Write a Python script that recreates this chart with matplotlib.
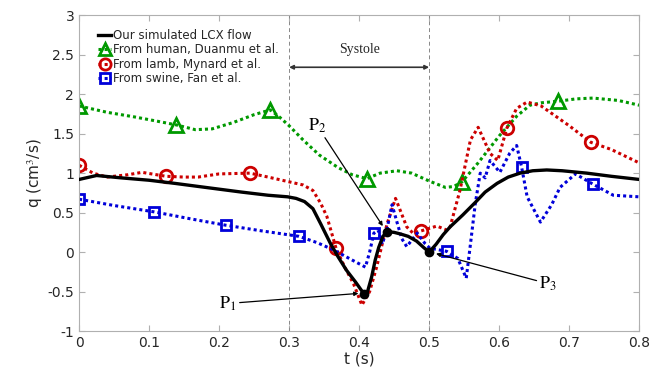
import matplotlib
matplotlib.use('Agg')
import matplotlib.pyplot as plt
import numpy as np

plt.rcParams['mathtext.fontset'] = 'stix'

# our simulated LCX flow
t_lcx = [0, 0.025, 0.06, 0.1, 0.137, 0.18, 0.232, 0.27, 0.298, 0.31, 0.322, 0.334,
         0.345, 0.359, 0.37, 0.382, 0.395, 0.407, 0.412, 0.418, 0.423, 0.428, 0.434,
         0.44, 0.45, 0.459, 0.47, 0.482, 0.492, 0.5, 0.51, 0.52, 0.53, 0.548, 0.566,
         0.58, 0.597, 0.613, 0.63, 0.648, 0.668, 0.69, 0.725, 0.76, 0.8]
q_lcx = [0.92, 0.97, 0.94, 0.91, 0.87, 0.82, 0.76, 0.72, 0.70, 0.68, 0.64, 0.55,
         0.36, 0.11, -0.06, -0.23, -0.38, -0.53, -0.50, -0.31, -0.10, 0.06, 0.20,
         0.26, 0.25, 0.23, 0.20, 0.14, 0.06, 0.0, 0.10, 0.22, 0.32, 0.47, 0.63,
         0.76, 0.87, 0.95, 1.0, 1.03, 1.04, 1.03, 1.0, 0.96, 0.92]

# human, Duanmu et al.
t_hum = [0, 0.04, 0.08, 0.11, 0.139, 0.166, 0.19, 0.22, 0.25, 0.273, 0.285, 0.3,
         0.32, 0.343, 0.37, 0.39, 0.411, 0.43, 0.454, 0.475, 0.5, 0.523, 0.535,
         0.547, 0.57, 0.6, 0.625, 0.644, 0.66, 0.684, 0.71, 0.734, 0.77, 0.8]
q_hum = [1.85, 1.77, 1.71, 1.66, 1.61, 1.55, 1.56, 1.64, 1.74, 1.80, 1.72, 1.60,
         1.42, 1.23, 1.07, 0.98, 0.93, 1.0, 1.03, 1.0, 0.90, 0.82, 0.83,
         0.89, 1.13, 1.47, 1.72, 1.86, 1.89, 1.91, 1.94, 1.95, 1.92, 1.86]
mk_hum = [0, 0.139, 0.273, 0.411, 0.547, 0.684]

# lamb, Mynard et al.
t_lamb = [0, 0.02, 0.04, 0.07, 0.09, 0.124, 0.15, 0.17, 0.2, 0.244, 0.27, 0.3,
          0.32, 0.334, 0.345, 0.354, 0.367, 0.38, 0.392, 0.404, 0.415, 0.425,
          0.44, 0.452, 0.468, 0.477, 0.489, 0.511, 0.525, 0.53, 0.544, 0.559,
          0.57, 0.587, 0.598, 0.611, 0.625, 0.64, 0.66, 0.7, 0.731, 0.76, 0.8]
q_lamb = [1.10, 1.0, 0.95, 0.98, 1.01, 0.96, 0.95, 0.95, 0.99, 1.0, 0.95, 0.89,
          0.85, 0.78, 0.62, 0.45, 0.05, -0.20, -0.40, -0.67, -0.50, -0.19,
          0.36, 0.68, 0.32, 0.24, 0.27, 0.33, 0.28, 0.32, 0.78, 1.42,
          1.58, 1.25, 1.16, 1.57, 1.82, 1.90, 1.85, 1.60, 1.39, 1.30, 1.13]
mk_lamb = [0, 0.124, 0.244, 0.367, 0.489, 0.611, 0.731]

# swine, Fan et al.
t_sw = [0, 0.05, 0.107, 0.16, 0.21, 0.26, 0.314, 0.34, 0.363, 0.39, 0.409, 0.415,
        0.421, 0.427, 0.433, 0.44, 0.447, 0.455, 0.461, 0.468, 0.483, 0.494, 0.501,
        0.525, 0.541, 0.553, 0.559, 0.566, 0.573, 0.58, 0.587, 0.601, 0.615, 0.625,
        0.632, 0.64, 0.659, 0.675, 0.687, 0.709, 0.734, 0.763, 0.8]
q_sw = [0.67, 0.59, 0.51, 0.42, 0.34, 0.27, 0.20, 0.12, 0.03, -0.10, -0.19, 0.0,
        0.24, 0.28, 0.10, 0.30, 0.60, 0.35, 0.17, 0.07, 0.24, 0.11, 0.05,
        0.01, -0.08, -0.33, 0.10, 0.62, 1.0, 0.94, 1.16, 1.01, 1.25, 1.35,
        1.08, 0.70, 0.38, 0.60, 0.82, 0.99, 0.86, 0.72, 0.70]
mk_sw = [0, 0.107, 0.21, 0.314, 0.421, 0.525, 0.632, 0.734]

# P1, P2, P3
t_p = [0.407, 0.44, 0.5]
q_p = [-0.53, 0.26, 0.0]

green = (0, 0.6, 0)
red = (0.8, 0, 0)
blue = (0, 0, 0.85)
txt = '#262626'

fig = plt.figure(figsize=(6.7, 3.78), dpi=100)
ax = fig.add_axes([0.118, 0.124, 0.836, 0.836])

ax.axvline(0.3, color='#888888', ls=(0, (4, 3)), lw=0.7)
ax.axvline(0.5, color='#888888', ls=(0, (4, 3)), lw=0.7)

dot = (0, (1, 1))
ax.plot(t_lcx, q_lcx, color='k', lw=2.4, label='Our simulated LCX flow', zorder=5)
ax.plot(t_hum, q_hum, color=green, lw=2.2, ls=dot, marker='^', ms=10, mfc='none',
        mew=2, markevery=list(np.where(np.isin(t_hum, mk_hum))[0]),
        label='From human, Duanmu et al.')
ax.plot(t_lamb, q_lamb, color=red, lw=2.2, ls=dot, marker='o', ms=9, mfc='none',
        mew=2, markevery=list(np.where(np.isin(t_lamb, mk_lamb))[0]),
        label='From lamb, Mynard et al.')
ax.plot(t_sw, q_sw, color=blue, lw=2.2, ls=dot, marker='s', ms=7.5, mfc='none',
        mew=2, markevery=list(np.where(np.isin(t_sw, mk_sw))[0]),
        label='From swine, Fan et al.')
ax.plot(t_p, q_p, 'o', color='k', ms=6, zorder=6)

# Systole arrow
ax.annotate('', xy=(0.3, 2.34), xytext=(0.5, 2.34),
            arrowprops=dict(arrowstyle='<|-|>', color='#333333', lw=1.2,
                            mutation_scale=6, shrinkA=0, shrinkB=0))
ax.text(0.4, 2.56, 'Systole', ha='center', va='center', fontsize=10,
        family='Liberation Serif', color=txt)

arr = dict(arrowstyle='-|>', color='k', lw=0.9, mutation_scale=6, shrinkA=0, shrinkB=2)
ax.annotate(r'$\mathrm{P}_1$', xy=(0.403, -0.52), xytext=(0.213, -0.65),
            fontsize=13, ha='center', va='center', arrowprops=arr)
ax.annotate(r'$\mathrm{P}_2$', xy=(0.436, 0.3), xytext=(0.34, 1.6),
            fontsize=13, ha='center', va='center', arrowprops=arr)
ax.annotate(r'$\mathrm{P}_3$', xy=(0.506, -0.01), xytext=(0.67, -0.4),
            fontsize=13, ha='center', va='center', arrowprops=arr)

ax.set_xlim(0, 0.8)
ax.set_ylim(-1, 3)
ax.set_xticks(np.arange(0, 0.81, 0.1))
ax.set_xticklabels(['0', '0.1', '0.2', '0.3', '0.4', '0.5', '0.6', '0.7', '0.8'])
ax.set_yticks(np.arange(-1, 3.01, 0.5))
ax.set_yticklabels(['-1', '-0.5', '0', '0.5', '1', '1.5', '2', '2.5', '3'])
ax.tick_params(direction='in', top=True, right=True, labelsize=10, colors='#b0b0b0',
               labelcolor=txt, length=4)
for s in ax.spines.values():
    s.set_color('#b0b0b0')
ax.set_xlabel('t (s)', fontsize=11, color=txt, labelpad=1)
ax.set_ylabel(r'q (cm$^3$/s)', fontsize=11, color=txt, labelpad=2)

leg = ax.legend(loc='upper left', frameon=False, fontsize=8.5, handlelength=1.1,
                handletextpad=0.15, labelspacing=0.12, borderaxespad=0.6,
                borderpad=0.3, bbox_to_anchor=(0.015, 0.99), markerscale=0.9)
for t in leg.get_texts():
    t.set_color(txt)

fig.savefig('out.png', dpi=100)
